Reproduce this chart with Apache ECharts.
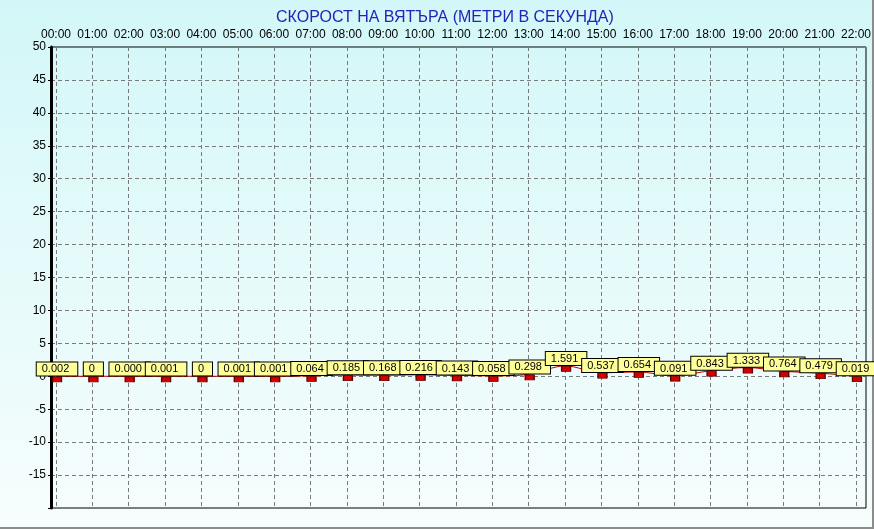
<!DOCTYPE html>
<html>
<head>
<meta charset="utf-8">
<script src="https://cdn.jsdelivr.net/npm/echarts@6/dist/echarts.min.js"></script>
<style>
html,body{margin:0;padding:0;background:#fff;}
#chart{width:874px;height:529px;}
</style>
</head>
<body>
<div id="chart"></div>
<script>
const titleText = 'СКОРОСТ НА ВЯТЪРА (МЕТРИ В СЕКУНДА)';
const hours = ['00:00','01:00','02:00','03:00','04:00','05:00','06:00','07:00','08:00','09:00','10:00','11:00','12:00','13:00','14:00','15:00','16:00','17:00','18:00','19:00','20:00','21:00','22:00'];
const labelTexts = ['0.002','0','0.000','0.001','0','0.001','0.001','0.064','0.185','0.168','0.216','0.143','0.058','0.298','1.591','0.537','0.654','0.091','0.843','1.333','0.764','0.479','0.019'];
const windSpeed = [0.002,0,0.000,0.001,0,0.001,0.001,0.064,0.185,0.168,0.216,0.143,0.058,0.298,1.591,0.537,0.654,0.091,0.843,1.333,0.764,0.479,0.019];
const yMin = -20, yMax = 50, yStep = 5;

const chart = echarts.init(document.getElementById('chart'), null, {renderer:'canvas'});
const FONT = 'Liberation Sans';
chart.setOption({
  animation:false,
  backgroundColor:{type:'linear',x:0,y:0,x2:0,y2:1,colorStops:[{offset:0,color:'#d3f7f8'},{offset:1,color:'#f7fdfd'}]},
  title:{text:titleText,left:271,top:5,textStyle:{color:'#2424b8',fontSize:16,fontWeight:'normal',fontFamily:FONT}},
  graphic:[
    {type:'rect',shape:{x:872,y:0,width:2,height:529},style:{fill:'#8c8c8c'}},
    {type:'rect',shape:{x:0,y:527,width:874,height:2},style:{fill:'#8c8c8c'}}
  ],
  grid:[
    {left:51,right:8,top:47,bottom:21,show:true,borderColor:'#000',borderWidth:1,backgroundColor:'transparent'},
    {left:56,right:13,top:47,bottom:21}
  ],
  xAxis:[
    {gridIndex:0,type:'value',min:0,max:1,show:false},
    {gridIndex:1,type:'category',data:hours,boundaryGap:false,position:'top',
     axisLine:{show:false},axisTick:{show:false},
     axisLabel:{interval:0,color:'#000',fontSize:12,fontFamily:FONT,margin:6},
     splitLine:{show:true,interval:0,lineStyle:{color:'#7a7a7a',type:[4,3],width:1}}}
  ],
  yAxis:[
    {gridIndex:0,type:'value',min:yMin,max:yMax,interval:yStep,
     axisLine:{show:true,onZero:false,lineStyle:{color:'#000',width:3}},
     axisTick:{show:true,inside:false,length:3,lineStyle:{color:'#000'}},
     axisLabel:{color:'#000',fontSize:12,fontFamily:FONT,margin:5,formatter:v=>v===yMin?'':String(v)},
     splitLine:{show:true,lineStyle:{color:'#7a7a7a',type:[4,3],width:1}}},
    {gridIndex:1,type:'value',min:yMin,max:yMax,interval:yStep,show:false,splitLine:{show:false}}
  ],
  series:[{
    type:'line',xAxisIndex:1,yAxisIndex:1,data:windSpeed,smooth:0.3,
    lineStyle:{color:'#c00000',width:1},
    symbol:'rect',symbolSize:[9,5],symbolOffset:[1,3],
    itemStyle:{color:'#d40000',borderColor:'#600000',borderWidth:1},
    label:{show:true,position:'top',distance:1,offset:[-1,0],
      formatter:p=>labelTexts[p.dataIndex],
      backgroundColor:'#ffff99',borderColor:'#000',borderWidth:1,
      padding:[1,8,0,5],lineHeight:12,color:'#000',fontSize:11,fontFamily:FONT},
    labelLayout:{hideOverlap:false}
  }]
});
</script>
</body>
</html>
